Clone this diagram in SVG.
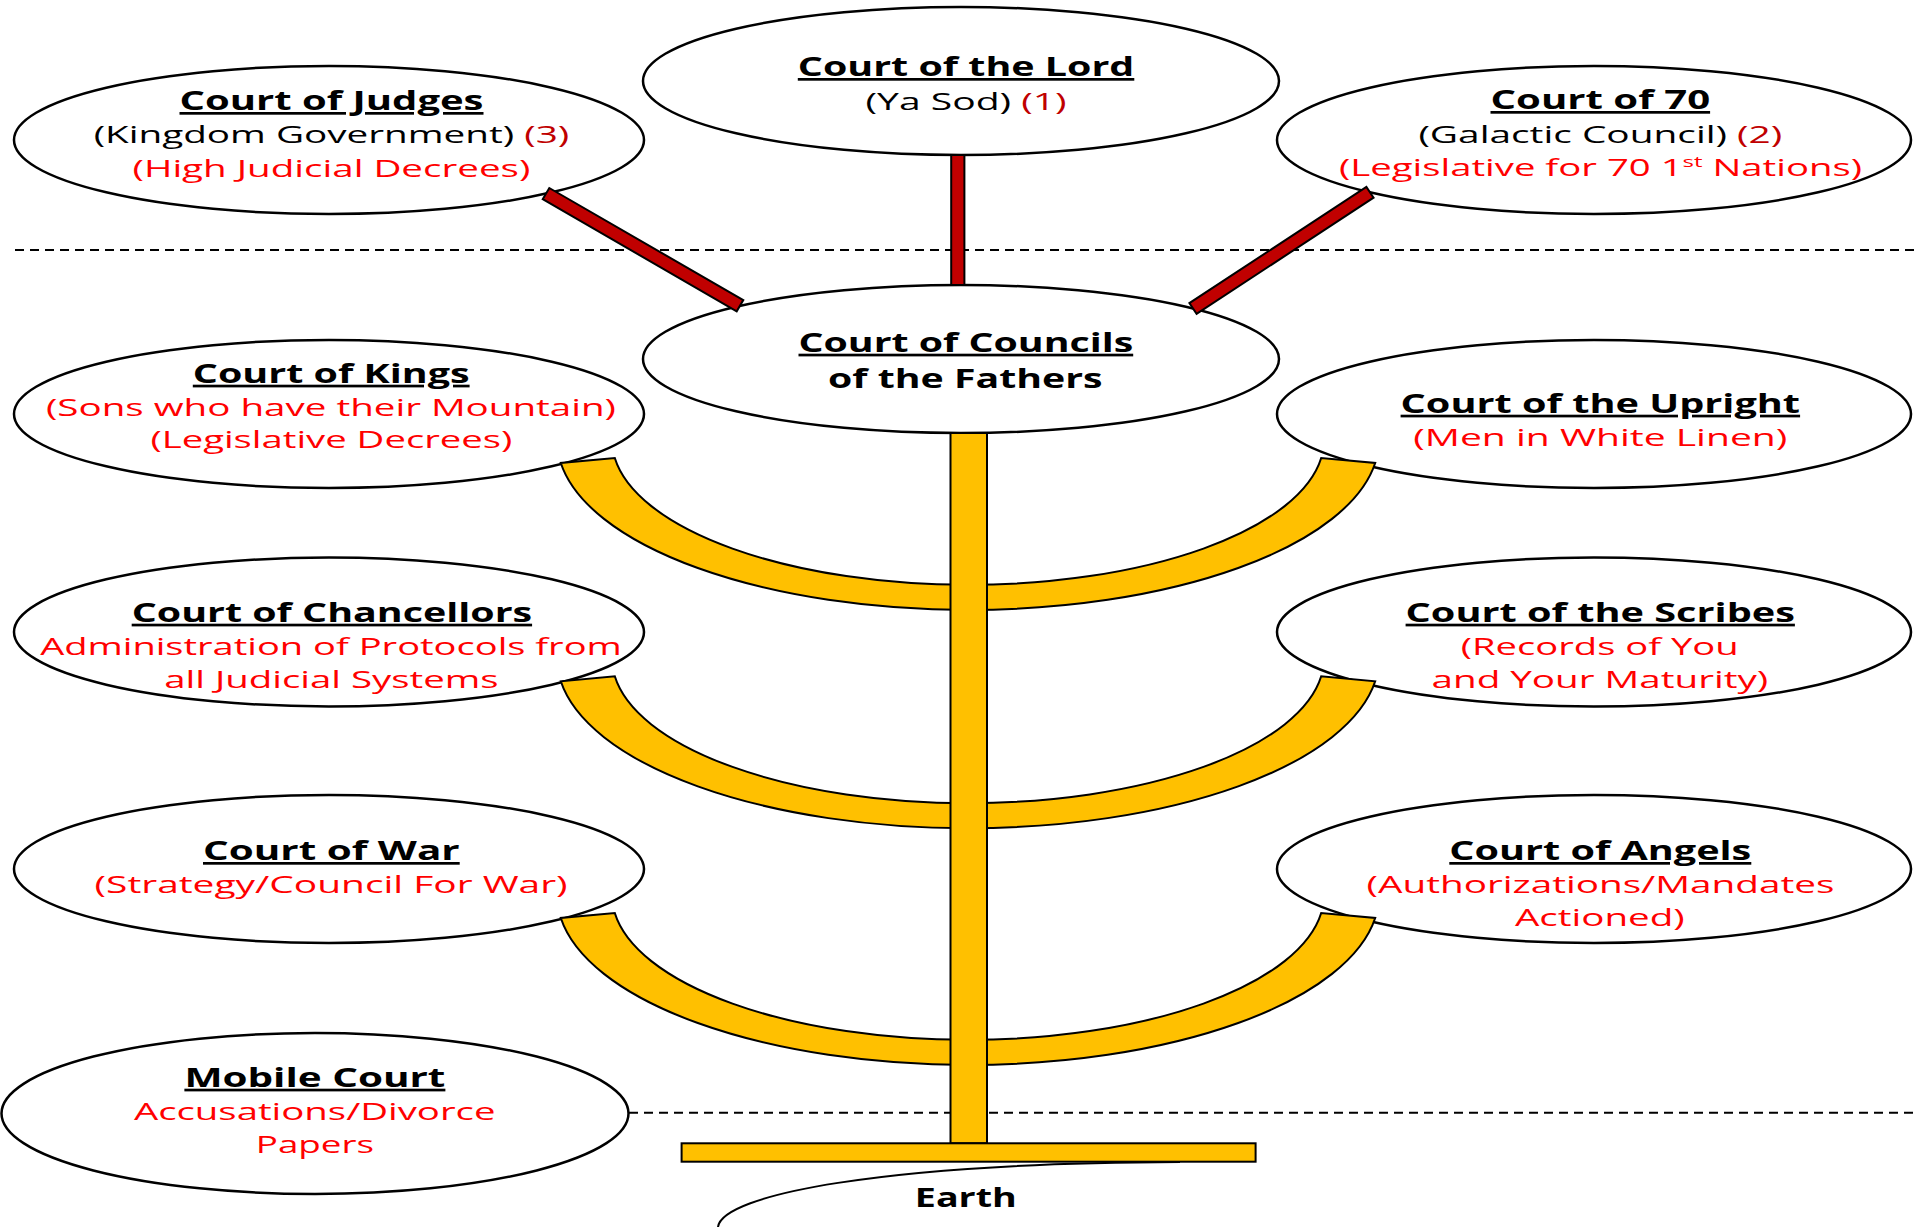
<svg xmlns="http://www.w3.org/2000/svg" width="1915" height="1227" viewBox="0 0 1915 1227">
<style>
.node ellipse{fill:#fff;stroke:#000;stroke-width:2.5}
text{font-family:"Open Sans","Liberation Sans",sans-serif}
.t{font-weight:bold;font-size:27px;fill:#000}
.u{text-decoration:underline;text-decoration-thickness:2.5px;text-decoration-skip-ink:none}
.s{font-size:24px;fill:#000}
.r{fill:#FF0000}
.dr{fill:#C00000}
.red{fill:#C00000;stroke:#000;stroke-width:2;stroke-linejoin:miter}
.gold{fill:#FFC000;stroke:#000;stroke-width:2}
.dash{stroke:#000;stroke-width:2;stroke-dasharray:9 6;fill:none}
</style>
<rect x="0" y="0" width="1915" height="1227" fill="#fff"/>
<line class="dash" x1="15" y1="250" x2="1915" y2="250"/>
<line class="dash" x1="629" y1="1112.7" x2="1915" y2="1112.7"/>

<g id="court-of-the-lord" class="node">
<ellipse cx="961" cy="81" rx="318" ry="74"/>
<text class="t u" x="797.8" y="76" textLength="336.5" lengthAdjust="spacingAndGlyphs">Court of the Lord</text>
<text class="s" x="865.6" y="110" textLength="201" lengthAdjust="spacingAndGlyphs">(Ya Sod) <tspan class="dr">(1)</tspan></text>
</g>

<g id="court-of-judges" class="node">
<ellipse cx="329" cy="140" rx="315" ry="74"/>
<text class="t u" x="179.5" y="110" textLength="304" lengthAdjust="spacingAndGlyphs">Court of Judges</text>
<text class="s" x="93.7" y="143" textLength="475.5" lengthAdjust="spacingAndGlyphs">(Kingdom Government) <tspan class="dr">(3)</tspan></text>
<text class="s r" x="132.6" y="176.5" textLength="397.7" lengthAdjust="spacingAndGlyphs">(High Judicial Decrees)</text>
</g>

<g id="court-of-70" class="node">
<ellipse cx="1594" cy="140" rx="317" ry="74"/>
<text class="t u" x="1490.5" y="109" textLength="219.6" lengthAdjust="spacingAndGlyphs">Court of 70</text>
<text class="s" x="1418.4" y="143" textLength="363.8" lengthAdjust="spacingAndGlyphs">(Galactic Council) <tspan class="dr">(2)</tspan></text>
<text class="s r" x="1339" y="176" textLength="523" lengthAdjust="spacingAndGlyphs">(Legislative for 70 1<tspan font-size="15" baseline-shift="9">st</tspan> Nations)</text>
</g>

<g id="court-of-councils" class="node">
<ellipse cx="961" cy="359" rx="318" ry="74"/>
<text class="t u" x="798.5" y="351.7" textLength="334.7" lengthAdjust="spacingAndGlyphs">Court of Councils</text>
<text class="t" x="828" y="387.5" textLength="274.5" lengthAdjust="spacingAndGlyphs">of the Fathers</text>
</g>

<g id="court-of-kings" class="node">
<ellipse cx="329" cy="414" rx="315" ry="74"/>
<text class="t u" x="192.8" y="382.7" textLength="276.8" lengthAdjust="spacingAndGlyphs">Court of Kings</text>
<text class="s r" x="46" y="416" textLength="570" lengthAdjust="spacingAndGlyphs">(Sons who have their Mountain)</text>
<text class="s r" x="150.4" y="448.3" textLength="362" lengthAdjust="spacingAndGlyphs">(Legislative Decrees)</text>
</g>

<g id="court-of-the-upright" class="node">
<ellipse cx="1594" cy="414" rx="317" ry="74"/>
<text class="t u" x="1400.6" y="412.7" textLength="399.5" lengthAdjust="spacingAndGlyphs">Court of the Upright</text>
<text class="s r" x="1413.3" y="446" textLength="374" lengthAdjust="spacingAndGlyphs">(Men in White Linen)</text>
</g>

<g id="court-of-chancellors" class="node">
<ellipse cx="329" cy="632" rx="315" ry="74.5"/>
<text class="t u" x="131.7" y="621.7" textLength="400.4" lengthAdjust="spacingAndGlyphs">Court of Chancellors</text>
<text class="s r" x="40.2" y="655" textLength="581.6" lengthAdjust="spacingAndGlyphs">Administration of Protocols from</text>
<text class="s r" x="164.3" y="687.7" textLength="334.3" lengthAdjust="spacingAndGlyphs">all Judicial Systems</text>
</g>

<g id="court-of-the-scribes" class="node">
<ellipse cx="1594" cy="632" rx="317" ry="74.5"/>
<text class="t u" x="1405.6" y="621.7" textLength="389.3" lengthAdjust="spacingAndGlyphs">Court of the Scribes</text>
<text class="s r" x="1460.8" y="655" textLength="277.8" lengthAdjust="spacingAndGlyphs">(Records of You</text>
<text class="s r" x="1431.5" y="687.7" textLength="336.7" lengthAdjust="spacingAndGlyphs">and Your Maturity)</text>
</g>

<g id="court-of-war" class="node">
<ellipse cx="329" cy="869" rx="315" ry="74"/>
<text class="t u" x="203" y="860" textLength="256.7" lengthAdjust="spacingAndGlyphs">Court of War</text>
<text class="s r" x="94.6" y="892.7" textLength="473" lengthAdjust="spacingAndGlyphs">(Strategy/Council For War)</text>
</g>

<g id="court-of-angels" class="node">
<ellipse cx="1594" cy="869" rx="317" ry="74"/>
<text class="t u" x="1449.3" y="860" textLength="302" lengthAdjust="spacingAndGlyphs">Court of Angels</text>
<text class="s r" x="1366.6" y="892.7" textLength="467.8" lengthAdjust="spacingAndGlyphs">(Authorizations/Mandates</text>
<text class="s r" x="1515" y="926" textLength="169.7" lengthAdjust="spacingAndGlyphs">Actioned)</text>
</g>

<g id="mobile-court" class="node">
<ellipse cx="315" cy="1113.5" rx="313.5" ry="80.5"/>
<text class="t u" x="184.4" y="1086.7" textLength="261" lengthAdjust="spacingAndGlyphs">Mobile Court</text>
<text class="s r" x="133.9" y="1120" textLength="361.6" lengthAdjust="spacingAndGlyphs">Accusations/Divorce</text>
<text class="s r" x="255.8" y="1152.7" textLength="118.3" lengthAdjust="spacingAndGlyphs">Papers</text>
</g>

<g id="earth" class="node">
<path d="M 718 1227 C 722 1195 880 1163 1180 1162" fill="none" stroke="#000" stroke-width="2"/>
<text class="t" font-size="26" x="914.8" y="1207.3" textLength="102" lengthAdjust="spacingAndGlyphs">Earth</text>
</g>

<g id="connectors">
<rect class="red" x="951.2" y="155" width="13.2" height="130"/>
<polygon class="red" points="542.7,199.2 549.3,188 743.3,300.1 736.7,311.3"/>
<polygon class="red" points="1373.6,197.7 1366.4,186.9 1189.4,303.1 1196.6,313.9"/>
<path class="gold" d="M 560.8 463 A 411 170 0 0 0 1375.2 463 L 1321.2 458 A 356 145 0 0 1 614.8 458 Z"/>
<path class="gold" d="M 560.8 681.3 A 411 170 0 0 0 1375.2 681.3 L 1321.2 676.3 A 356 145 0 0 1 614.8 676.3 Z"/>
<path class="gold" d="M 560.8 918 A 411 170 0 0 0 1375.2 918 L 1321.2 913 A 356 145 0 0 1 614.8 913 Z"/>
<rect class="gold" x="950.5" y="433" width="36.5" height="710.3"/>
<rect class="gold" x="681.6" y="1143.3" width="574" height="18.4"/>
</g>
</svg>
